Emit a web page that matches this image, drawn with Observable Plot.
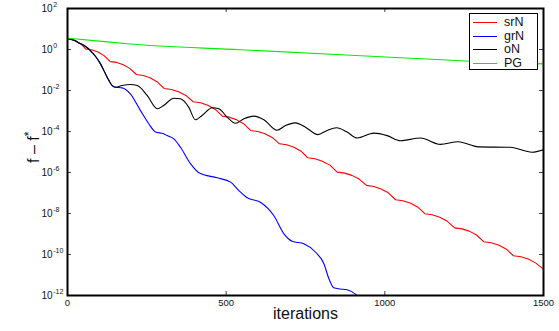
<!DOCTYPE html>
<html>
<head>
<meta charset="utf-8">
<script src="https://cdn.jsdelivr.net/npm/d3@7"></script>
<script src="https://cdn.jsdelivr.net/npm/@observablehq/plot@0.6"></script>
<style>
  html, body { margin: 0; padding: 0; background: white; }
  #wrap { position: relative; width: 559px; height: 331px; font-family: "Liberation Sans", Arial, sans-serif; }
  #legend { position: absolute; left: 469px; top: 13px; width: 69px; height: 57px; border: 1px solid #000; background: #fff; box-sizing: border-box; }
  .row { position: absolute; left: 0; height: 14px; width: 100%; }
  .sw { position: absolute; left: 3px; top: 7px; width: 24px; height: 0; border-top: 1px solid; }
  .lab { position: absolute; left: 34px; top: 0; font-size: 12.5px; line-height: 14px; color: #111; }
</style>
</head>
<body>
<div id="wrap"></div>
<script>
// ---- data (iteration, log10(f - f*)) ----
const seriesNames = ["srN", "grN", "oN", "PG"];
const seriesColors = ["#ff0000", "#0000ff", "#000000", "#00ee00"];

const srN = [
  [0,0.54],[14,0.50],[28,0.41],[43,0.26],[57,0.03],
  [76,-0.01],[96,-0.12],[115,-0.30],[135,-0.59],
  [155,-0.63],[176,-0.74],[196,-0.92],[217,-1.22],
  [239,-1.27],[260,-1.38],[282,-1.57],[304,-1.90],
  [327,-1.95],[350,-2.06],[373,-2.24],[396,-2.55],
  [419,-2.60],[442,-2.72],[465,-2.91],[488,-3.25],
  [510,-3.30],[532,-3.42],[555,-3.62],[577,-3.95],
  [600,-4.00],[622,-4.11],[645,-4.29],[668,-4.60],
  [690,-4.65],[712,-4.76],[735,-4.95],[757,-5.28],
  [780,-5.33],[803,-5.45],[827,-5.64],[850,-5.98],
  [873,-6.03],[896,-6.14],[919,-6.32],[942,-6.63],
  [965,-6.68],[988,-6.80],[1011,-6.99],[1034,-7.33],
  [1057,-7.38],[1080,-7.49],[1103,-7.68],[1126,-8.01],
  [1149,-8.06],[1173,-8.18],[1196,-8.37],[1220,-8.70],
  [1243,-8.75],[1266,-8.86],[1289,-9.05],[1312,-9.38],
  [1335,-9.43],[1358,-9.54],[1382,-9.73],[1405,-10.06],
  [1429,-10.11],[1452,-10.22],[1476,-10.42],[1500,-10.72]
];

const grN = [
  [0,0.54],[20,0.45],[40,0.29],[55,0.17],[72,-0.05],[88,-0.33],[104,-0.70],
  [125,-1.35],[141,-1.76],[151,-1.84],[172,-1.87],[198,-2.16],[230,-2.98],
  [256,-3.62],[277,-4.02],[303,-4.11],[314,-4.20],[335,-4.36],[356,-4.77],
  [388,-5.58],[414,-6.01],[472,-6.26],[514,-6.47],[540,-6.88],[566,-7.23],
  [608,-7.45],[650,-8.10],[682,-8.99],[708,-9.35],[745,-9.48],[782,-9.89],
  [808,-10.45],[823,-11.15],[839,-11.62],[860,-11.68],[881,-11.72],[913,-12.0],[930,-12.3]
];

const oN = [
  [0,0.54],[20,0.45],[40,0.29],[55,0.17],[72,-0.05],[88,-0.33],[104,-0.70],
  [125,-1.35],[141,-1.76],[151,-1.84],[172,-1.76],[198,-1.71],[220,-1.76],
  [251,-2.24],[283,-2.89],[303,-2.73],[335,-2.38],[356,-2.40],[382,-2.81],
  [403,-3.43],[424,-3.22],[456,-2.84],[477,-2.89],[503,-3.30],[529,-3.60],
  [556,-3.38],[587,-3.25],[619,-3.43],[660,-3.94],[687,-3.71],[718,-3.58],
  [750,-3.79],[789,-4.15],[818,-3.95],[848,-3.82],[881,-4.03],[913,-4.32],
  [965,-4.08],[1007,-4.20],[1049,-4.45],[1112,-4.32],[1175,-4.63],[1231,-4.50],
  [1295,-4.75],[1396,-4.77],[1464,-5.01],[1500,-4.89]
];

const PG = [
  [0,0.55],[100,0.41],[188,0.28],[545,-0.01],[1049,-0.40],[1270,-0.57],[1500,-0.70]
];

const xTicks = [0, 500, 1000, 1500];
const yExponents = [2, 0, -2, -4, -6, -8, -10, -12];
const yExponentLabels = ["2", "0", "-2", "-4", "-6", "-8", "-10", "-12"];

// ---- build ----
const toRows = (arr) => arr.map(([i, e]) => ({i, v: Math.pow(10, e)}));
const allSeries = [srN, grN, oN, PG];
const yTicks = yExponents.map(e => Math.pow(10, e));
const yLab = yExponents.map((e, k) => ({v: Math.pow(10, e), t: yExponentLabels[k]}));

const lineMarks = allSeries.map((s, k) =>
  Plot.line(toRows(s), {x: "i", y: "v", stroke: seriesColors[k], strokeWidth: 1.1,
    curve: k === 0 ? "linear" : "monotone-x", clip: true}));

const chart = Plot.plot({
  width: 559, height: 331,
  marginLeft: 67, marginRight: 16, marginTop: 8, marginBottom: 36,
  style: {fontFamily: "'Liberation Sans', Arial, sans-serif", background: "white", color: "#111"},
  x: {domain: [0, 1500]},
  y: {type: "log", domain: [1e-12, 1e2], axis: null},
  marks: [
    ...lineMarks,
    Plot.tickY(yTicks, {y: d => d, insetRight: 472, stroke: "#444", strokeWidth: 1}),
    Plot.tickY(yTicks, {y: d => d, insetLeft: 472, stroke: "#444", strokeWidth: 1}),
    Plot.tickX(xTicks, {x: d => d, insetTop: 283, stroke: "#444", strokeWidth: 1}),
    Plot.tickX(xTicks, {x: d => d, insetBottom: 283, stroke: "#444", strokeWidth: 1}),
    Plot.frame({stroke: "#000", strokeWidth: 2}),
    Plot.axisX(xTicks, {tickSize: 0, tickPadding: 4, fontSize: 9.5, label: null, tickFormat: d => String(d)}),
    Plot.text(yLab, {y: "v", text: () => "10", frameAnchor: "left", dx: -26, textAnchor: "start", fontSize: 10}),
    Plot.text(yLab, {y: "v", text: "t", frameAnchor: "left", dx: -14.3, dy: -4, textAnchor: "start", fontSize: 7}),
    Plot.text(["iterations"], {frameAnchor: "bottom", dy: 23, fontSize: 16}),
    Plot.text(["f – f"], {frameAnchor: "left", dx: -34, dy: 11, rotate: -90, fontSize: 16})
  ]
});

// superscript asterisk on the y label
d3.select(chart).selectAll("text").filter(function () { return this.textContent === "f – f"; })
  .append("tspan").attr("dy", "-0.45em").attr("font-size", 12).text("*");

const wrap = document.getElementById("wrap");
wrap.appendChild(chart);

// legend (HTML overlay)
const legend = document.createElement("div");
legend.id = "legend";
seriesNames.forEach((n, k) => {
  const row = document.createElement("div");
  row.className = "row";
  row.style.top = (1 + 13.7 * k) + "px";
  const sw = document.createElement("div");
  sw.className = "sw";
  sw.style.borderTopColor = seriesColors[k];
  const lab = document.createElement("div");
  lab.className = "lab";
  lab.textContent = n;
  row.appendChild(sw); row.appendChild(lab);
  legend.appendChild(row);
});
wrap.appendChild(legend);
</script>
</body>
</html>
